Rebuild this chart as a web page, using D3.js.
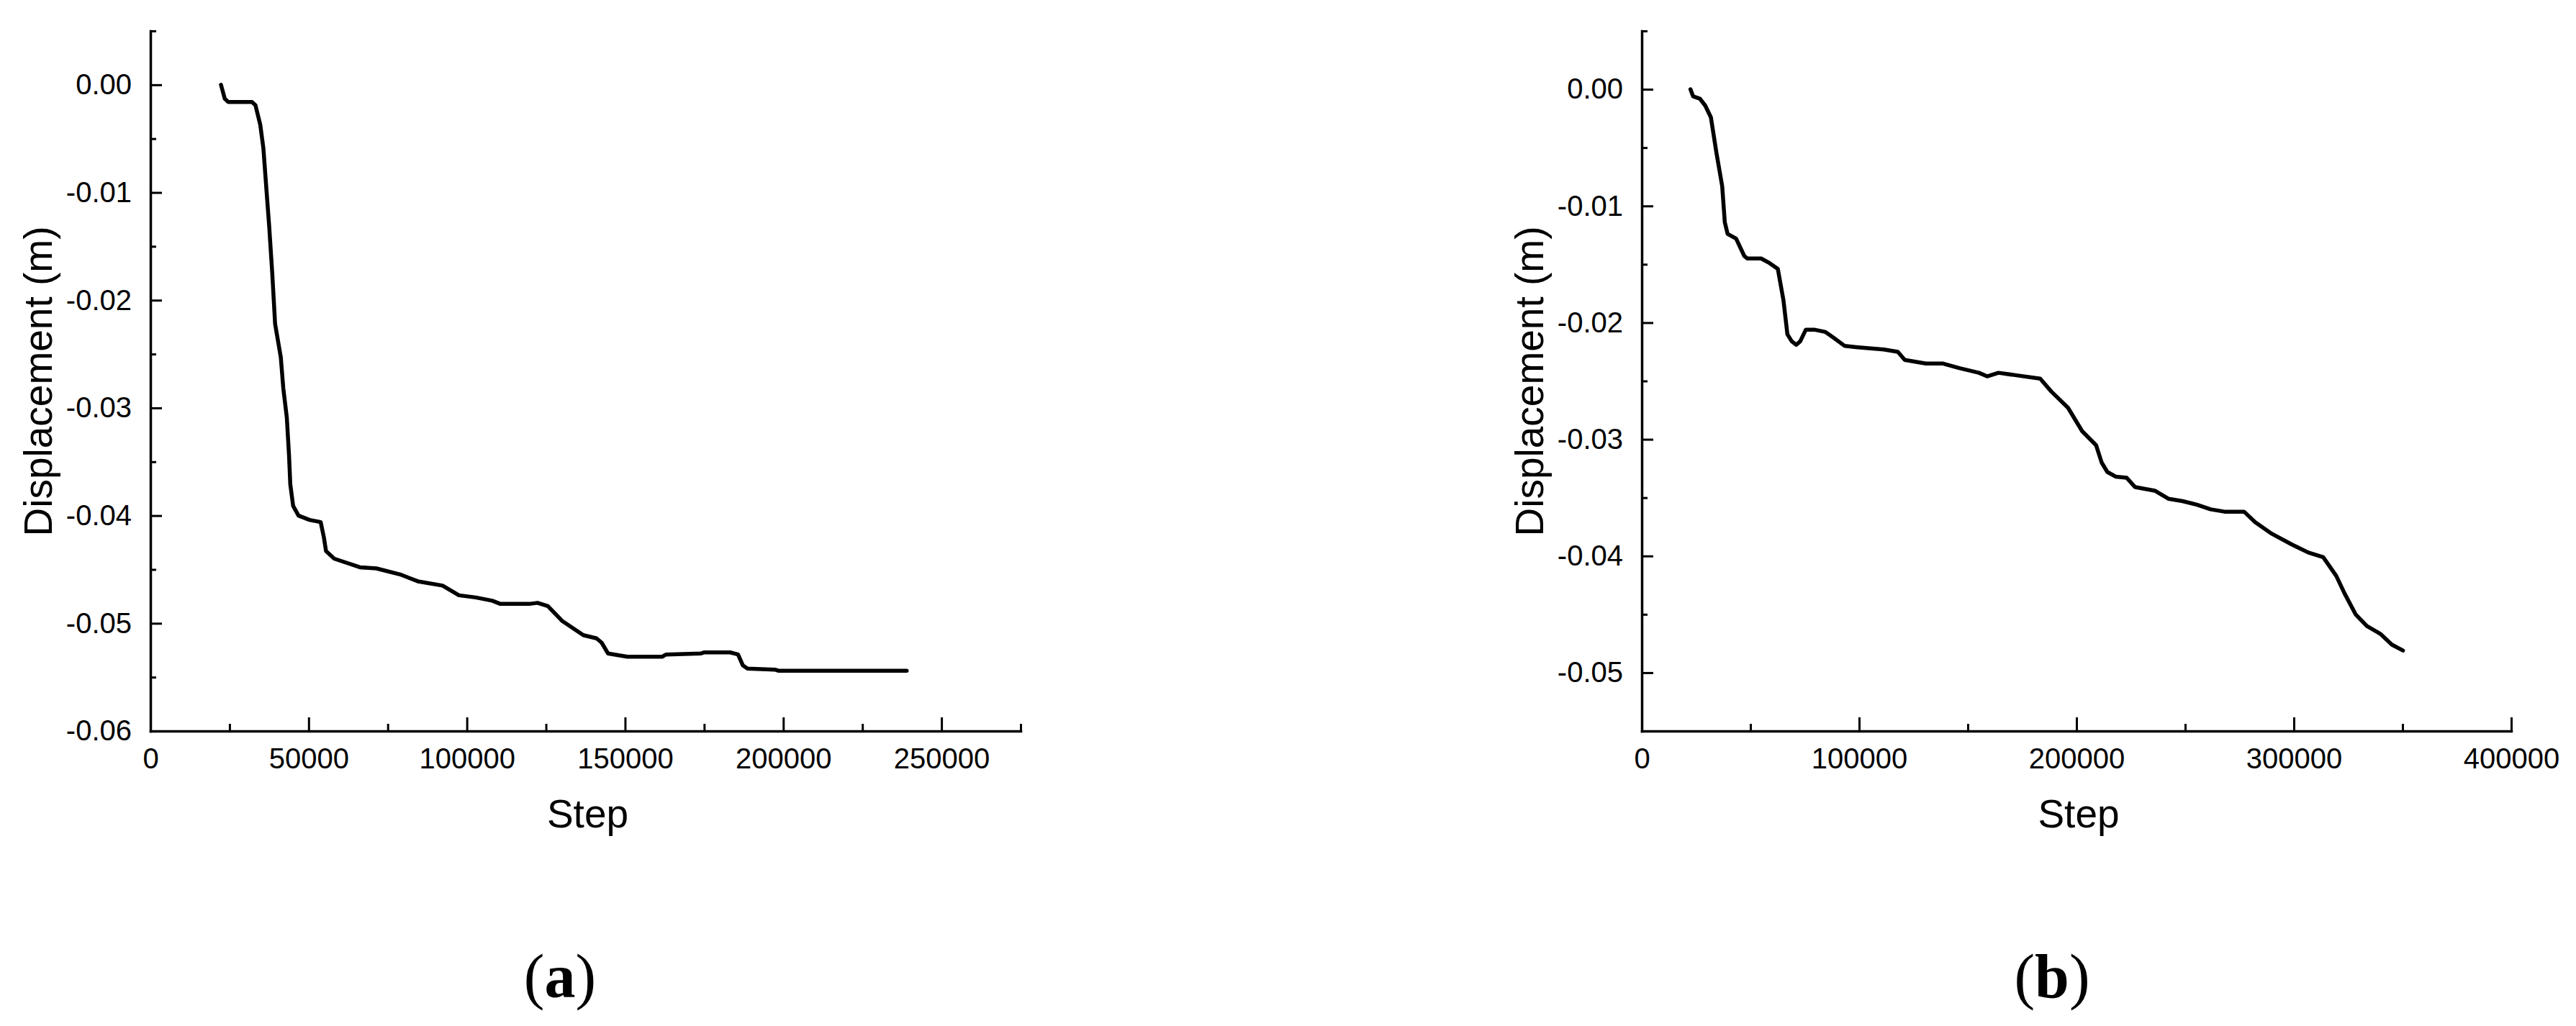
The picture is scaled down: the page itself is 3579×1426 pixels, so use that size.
<!DOCTYPE html>
<html>
<head>
<meta charset="utf-8">
<script src="https://cdn.jsdelivr.net/npm/d3@7"></script>
<style>
  html, body { margin: 0; padding: 0; background: #fff; }
  svg { display: block; }
  text { font-family: "Liberation Sans", Arial, sans-serif; fill: #000; }
</style>
</head>
<body>
<svg id="chart" width="3579" height="1426"></svg>
<script>
// ---------- Data: panel (a) ----------
const stepsA = [22300, 23500, 24600, 32100, 33200, 34700, 35700, 36700, 37500, 38500, 39400, 41200, 42000, 43100, 43800, 44200, 45100, 46800, 50300, 53800, 54800, 55500, 58100, 66200, 71400, 79300, 81900, 84500, 92300, 97500, 102800, 108000, 110600, 119700, 122300, 125600, 130200, 136800, 141000, 142600, 144600, 150700, 161800, 162900, 174000, 175100, 183200, 185700, 187200, 188700, 197400, 198400, 239000];
const dispA = [0, -0.0013, -0.0016, -0.0016, -0.0019, -0.0037, -0.0059, -0.0099, -0.0130, -0.0175, -0.0222, -0.0253, -0.0282, -0.0309, -0.0344, -0.0371, -0.0391, -0.0400, -0.0404, -0.0406, -0.0420, -0.0433, -0.0440, -0.0448, -0.0449, -0.0455, -0.0458, -0.0461, -0.0465, -0.0474, -0.0476, -0.0479, -0.0482, -0.0482, -0.0481, -0.0484, -0.0498, -0.0511, -0.0514, -0.0518, -0.0528, -0.0531, -0.0531, -0.0529, -0.0528, -0.0527, -0.0527, -0.0529, -0.0539, -0.0542, -0.0543, -0.0544, -0.0544];
const xMajorA = [0, 50000, 100000, 150000, 200000, 250000];
const xMinorA = [25000, 75000, 125000, 175000, 225000, 275000];
const yMajorA = [0, -0.01, -0.02, -0.03, -0.04, -0.05, -0.06];
const yMinorA = [0.005, -0.005, -0.015, -0.025, -0.035, -0.045, -0.055];

// ---------- Data: panel (b) ----------
const stepsB = [22400, 23600, 26700, 29200, 31800, 34400, 37000, 38200, 39500, 43400, 47200, 48500, 54900, 58800, 62600, 65200, 67000, 69000, 71100, 72900, 75500, 79300, 84500, 88300, 93400, 98600, 111400, 117800, 121000, 130700, 138400, 146100, 155100, 158900, 164100, 171800, 183300, 188400, 196100, 202600, 209000, 211600, 214200, 218000, 223100, 227000, 236000, 242400, 248800, 255300, 261700, 268100, 273200, 277100, 282200, 289900, 298900, 306600, 313500, 319500, 323300, 328400, 333600, 340000, 345100, 350200];
const dispB = [0, -0.0006, -0.0008, -0.0014, -0.0024, -0.0055, -0.0083, -0.0114, -0.0124, -0.0128, -0.0143, -0.0145, -0.0145, -0.0149, -0.0154, -0.0181, -0.0210, -0.0216, -0.0219, -0.0216, -0.0206, -0.0206, -0.0208, -0.0213, -0.0220, -0.0221, -0.0223, -0.0225, -0.0232, -0.0235, -0.0235, -0.0239, -0.0243, -0.0246, -0.0243, -0.0245, -0.0248, -0.0259, -0.0273, -0.0293, -0.0305, -0.0320, -0.0328, -0.0332, -0.0333, -0.0341, -0.0344, -0.0351, -0.0353, -0.0356, -0.0360, -0.0362, -0.0362, -0.0362, -0.0371, -0.0381, -0.0390, -0.0397, -0.0401, -0.0417, -0.0432, -0.0450, -0.0460, -0.0467, -0.0476, -0.0481];
const xMajorB = [0, 100000, 200000, 300000, 400000];
const xMinorB = [50000, 150000, 250000, 350000];
const yMajorB = [0, -0.01, -0.02, -0.03, -0.04, -0.05];
const yMinorB = [0.005, -0.005, -0.015, -0.025, -0.035, -0.045, -0.055];

const xTitle = "Step";
const yTitle = "Displacement (m)";

const svg = d3.select("#chart");

function panel(cfg) {
  const x = d3.scaleLinear().domain(cfg.xDomain).range([cfg.left, cfg.right]);
  const y = d3.scaleLinear().domain(cfg.yDomain).range([cfg.bottom, cfg.top]);
  const g = svg.append("g");

  // minor ticks
  g.append("g").attr("transform", `translate(0,${cfg.bottom})`)
    .call(d3.axisBottom(x).tickValues(cfg.xMinor).tickSizeInner(-10).tickSizeOuter(0).tickFormat(""))
    .call(a => a.select(".domain").remove());
  g.append("g").attr("transform", `translate(${cfg.left},0)`)
    .call(d3.axisLeft(y).tickValues(cfg.yMinor).tickSizeInner(-8).tickSizeOuter(0).tickFormat(""))
    .call(a => a.select(".domain").remove());

  // major x axis
  g.append("g").attr("transform", `translate(0,${cfg.bottom})`)
    .call(d3.axisBottom(x).tickValues(cfg.xMajor).tickSizeInner(-19).tickSizeOuter(0)
      .tickPadding(24).tickFormat(d3.format("d")));
  // major y axis
  g.append("g").attr("transform", `translate(${cfg.left},0)`)
    .call(d3.axisLeft(y).tickValues(cfg.yMajor).tickSizeInner(-16).tickSizeOuter(0)
      .tickPadding(26).tickFormat(d => d === 0 ? "0.00" : d3.format(".2f")(d).replace("−", "-")));

  g.selectAll(".tick line").attr("stroke", "#000").attr("stroke-width", 3);
  g.selectAll(".domain").attr("stroke", "#000").attr("stroke-width", 3.5).attr("stroke-linecap", "square");
  g.selectAll(".tick text").attr("font-size", 40).attr("font-family", "'Liberation Sans', Arial, sans-serif").attr("fill", "#000");

  // curve
  const pts = cfg.steps.map((s, i) => [s, cfg.disp[i]]);
  g.append("path").datum(pts)
    .attr("fill", "none").attr("stroke", "#000").attr("stroke-width", 5.5)
    .attr("stroke-linejoin", "round").attr("stroke-linecap", "round")
    .attr("d", d3.line().x(d => x(d[0])).y(d => y(d[1])));

  // titles
  g.append("text").attr("x", (cfg.left + cfg.right) / 2 + 3).attr("y", 1150)
    .attr("text-anchor", "middle").attr("font-size", 55).text(xTitle);
  g.append("text").attr("transform", `translate(${cfg.left - 137},530) rotate(-90)`)
    .attr("text-anchor", "middle").attr("font-size", 55).text(yTitle);

  // caption
  const cap = g.append("text").attr("x", cfg.capX).attr("y", 1386)
    .attr("text-anchor", "middle").attr("font-size", 86)
    .style("font-family", "'Liberation Serif', 'Times New Roman', serif");
  cap.append("tspan").text("(");
  cap.append("tspan").attr("font-weight", "bold").text(cfg.label);
  cap.append("tspan").text(")");
}

panel({
  left: 209, right: 1418, top: 43, bottom: 1016,
  xDomain: [0, 275000], yDomain: [-0.06, 0.005],
  xMajor: xMajorA, xMinor: xMinorA, yMajor: yMajorA, yMinor: yMinorA,
  steps: stepsA, disp: dispA, capX: 778, label: "a"
});
panel({
  left: 2281, right: 3489, top: 43, bottom: 1016,
  xDomain: [0, 400000], yDomain: [-0.055, 0.005],
  xMajor: xMajorB, xMinor: xMinorB, yMajor: yMajorB, yMinor: yMinorB,
  steps: stepsB, disp: dispB, capX: 2851, label: "b"
});
</script>
</body>
</html>
